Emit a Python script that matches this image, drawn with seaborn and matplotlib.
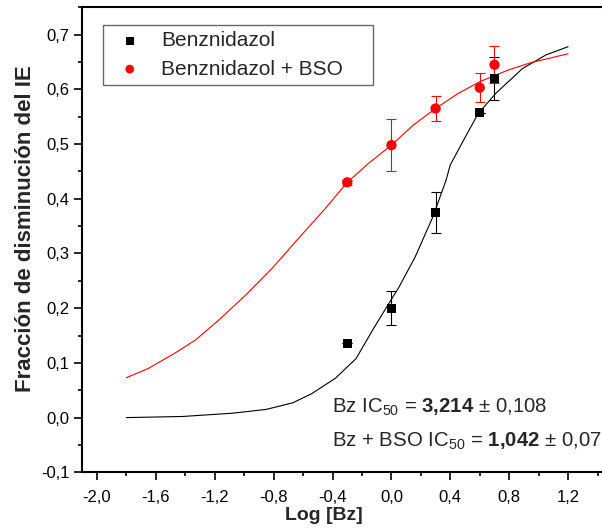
import numpy as np
import pandas as pd
import matplotlib
matplotlib.use("Agg")
import matplotlib.pyplot as plt
from matplotlib.ticker import FixedLocator, MultipleLocator, FuncFormatter
import seaborn as sns

# ---- data ----
log_bz = [-0.3, 0.0, 0.3, 0.6, 0.7]
bz_vals = [0.136, 0.200, 0.375, 0.557, 0.620]
bz_err = [0.0, 0.031, 0.037, 0.0, 0.040]
bso_vals = [0.430, 0.498, 0.565, 0.603, 0.645]
bso_err = [0.005, 0.047, 0.022, 0.027, 0.034]

bz_fit_x = [-1.8, -1.42, -1.08, -0.85, -0.67, -0.54, -0.38, -0.24, -0.13, -0.06,
            0.05, 0.16, 0.28, 0.37, 0.40, 0.50, 0.59, 0.71, 0.89, 1.05, 1.2]
bz_fit_y = [0.0, 0.002, 0.008, 0.015, 0.027, 0.044, 0.072, 0.108, 0.159, 0.19,
            0.238, 0.293, 0.366, 0.433, 0.462, 0.512, 0.556, 0.593, 0.638, 0.663, 0.678]
bso_fit_x = [-1.8, -1.65, -1.47, -1.33, -1.17, -0.99, -0.81, -0.63, -0.45, -0.3,
             -0.15, 0.0, 0.15, 0.3, 0.45, 0.6, 0.8, 0.95, 1.2]
bso_fit_y = [0.073, 0.090, 0.118, 0.142, 0.179, 0.224, 0.273, 0.328, 0.382, 0.43,
             0.466, 0.498, 0.535, 0.565, 0.592, 0.614, 0.636, 0.649, 0.665]

x_major = [-2.0, -1.6, -1.2, -0.8, -0.4, 0.0, 0.4, 0.8, 1.2]
y_major = [-0.1, 0.0, 0.1, 0.2, 0.3, 0.4, 0.5, 0.6, 0.7]

label_bz = "Benznidazol"
label_bso = "Benznidazol + BSO"

# ---- style ----
sns.set_style("ticks")
plt.rcParams["font.family"] = ["Liberation Sans", "DejaVu Sans"]
plt.rcParams["mathtext.fontset"] = "custom"
plt.rcParams["mathtext.rm"] = "Liberation Sans"
plt.rcParams["mathtext.it"] = "Liberation Sans:italic"
plt.rcParams["mathtext.bf"] = "Liberation Sans:bold"

fig = plt.figure(figsize=(6.02, 5.29), dpi=100)
ax = fig.add_axes([0.1367, 0.1072, 0.8681, 0.879])

red = "#ff0000"

# fitted curves
sns.lineplot(x=bz_fit_x, y=bz_fit_y, sort=False, estimator=None, color="black",
             linewidth=0.8, ax=ax, legend=False)
sns.lineplot(x=bso_fit_x, y=bso_fit_y, sort=False, estimator=None, color=red,
             linewidth=0.8, ax=ax, legend=False)

# error bars
ax.errorbar(log_bz, bz_vals, yerr=bz_err, fmt="none", ecolor="black",
            elinewidth=0.8, capsize=3.3, capthick=0.8)
ax.errorbar(log_bz, bso_vals, yerr=bso_err, fmt="none", ecolor=red,
            elinewidth=0.8, capsize=3.3, capthick=0.8)

# points
sns.scatterplot(x=log_bz, y=bz_vals, marker="s", s=42, color="black",
                edgecolor="none", ax=ax, label=label_bz, zorder=5)
sns.scatterplot(x=log_bz, y=bso_vals, marker="o", s=55, color=red,
                edgecolor="none", ax=ax, label=label_bso, zorder=5)

ax.set_xlim(-2.1, 1.45)
ax.set_ylim(-0.1, 0.75)

fmt = FuncFormatter(lambda v, p: f"{v:.1f}".replace(".", ","))
ax.xaxis.set_major_locator(FixedLocator(x_major))
ax.yaxis.set_major_locator(FixedLocator(y_major))
ax.xaxis.set_minor_locator(MultipleLocator(0.2))
ax.yaxis.set_minor_locator(MultipleLocator(0.05))
ax.xaxis.set_major_formatter(fmt)
ax.yaxis.set_major_formatter(fmt)
ax.tick_params(which="major", direction="out", length=6, width=1.2,
               labelsize=12, pad=3, color="black", labelcolor="black")
ax.tick_params(axis="x", which="major", pad=7)
ax.tick_params(which="minor", direction="out", length=3, width=1.2, color="black")

for side in ["left", "bottom", "top"]:
    ax.spines[side].set_linewidth(1.5)
    ax.spines[side].set_color("black")
ax.spines["right"].set_visible(False)

ax.set_xlabel("Log [Bz]", fontsize=14, fontweight="bold")
ax.set_ylabel("Fracción de disminución del IE", fontsize=16, fontweight="bold")
ax.xaxis.set_label_coords(0.463, -0.075)
ax.yaxis.set_label_coords(-0.089, 0.525)

leg = ax.legend(loc="upper left", bbox_to_anchor=(0.039, 0.0, 0.517, 0.962),
                mode="expand", borderaxespad=0,
                fontsize=15, frameon=True, fancybox=False, edgecolor="#444444",
                borderpad=0.3, labelspacing=0.45, handlelength=2.0,
                handletextpad=0.5, markerscale=0.85)
leg.get_frame().set_linewidth(1.0)

ax.text(-0.406, 0.009, r"Bz IC$_{50}$ = $\mathbf{3{,}214}$ ± 0,108",
        fontsize=14.7, va="baseline", ha="left")
ax.text(-0.406, -0.054, r"Bz + BSO IC$_{50}$ = $\mathbf{1{,}042}$ ± 0,07",
        fontsize=14.7, va="baseline", ha="left")

fig.savefig("out.png", dpi=100)
